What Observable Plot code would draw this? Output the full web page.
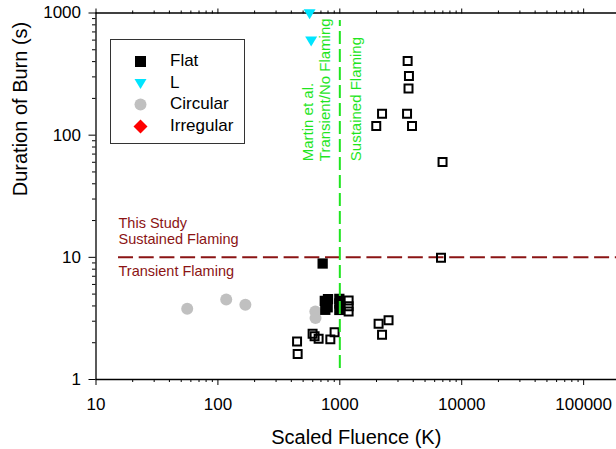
<!DOCTYPE html>
<html><head><meta charset="utf-8">
<script src="https://cdn.jsdelivr.net/npm/d3@7"></script>
<script src="https://cdn.jsdelivr.net/npm/@observablehq/plot@0.6"></script>
<style>
html,body{margin:0;padding:0;background:#fff;}
#wrap{position:relative;width:616px;height:449px;overflow:hidden;font-family:"Liberation Sans",Arial,sans-serif;}
#legend{position:absolute;left:110px;top:39px;width:135px;height:105px;border:1px solid #333;background:#fff;box-sizing:border-box;}
.item{position:absolute;left:0;height:22px;display:flex;align-items:center;font-size:17px;color:#000;}
.item svg{margin-left:23px;margin-right:0;}
</style></head><body><div id="wrap"></div>
<script>
// ---- data ----
const flatFluence = [723, 753, 800, 760, 795, 991, 991, 991];
const flatDuration = [8.9, 4.4, 4.55, 3.72, 3.9, 4.57, 4.19, 3.71];
const lFluence = [565, 582];
const lDuration = [985, 590];
const circFluence = [56, 117, 168, 630, 632];
const circDuration = [3.80, 4.52, 4.10, 3.61, 3.18];
const irrFluence = [];
const irrDuration = [];
const openFluence = [3600, 3690, 3660, 2220, 3560, 1990, 3910, 6960, 6760, 2080, 2510, 2220, 1181, 1181, 1181, 446, 451, 598, 621, 670, 836, 906];
const openDuration = [404, 305, 241, 150, 150, 119, 119, 60.4, 9.94, 2.86, 3.05, 2.32, 4.44, 3.97, 3.61, 2.05, 1.62, 2.37, 2.26, 2.16, 2.13, 2.44];
const legendLabels = ["Flat", "L", "Circular", "Irregular"];
const legendColors = ["#000000", "#00e5ff", "#c0c0c0", "#ff0000"];
const xMajorTicks = [10, 100, 1000, 10000, 100000];
const yMajorTicks = [1, 10, 100, 1000];
const martinThreshold = 1000;
const studyThreshold = 10;
const xLabel = "Scaled Fluence (K)";
const yLabel = "Duration of Burn (s)";

const zip = (xs, ys) => xs.map((x, i) => ({x, y: ys[i]}));
const flat = zip(flatFluence, flatDuration);
const lData = zip(lFluence, lDuration);
const circ = zip(circFluence, circDuration);
const irr = zip(irrFluence, irrDuration);
const open = zip(openFluence, openDuration);

const minor = (majors, max) => {
  const out = [];
  for (const m of majors) for (let k = 2; k <= 9; k++) if (m * k <= max) out.push(m * k);
  return out;
};
const xMinor = minor(xMajorTicks, 186000);
const yMinor = minor(yMajorTicks.slice(0, 3), 1000);

const downTriangle = {
  draw(ctx, size) {
    const r = Math.sqrt(size / Math.PI);
    ctx.moveTo(-r, -0.75 * r);
    ctx.lineTo(r, -0.75 * r);
    ctx.lineTo(0, 0.92 * r);
    ctx.closePath();
  }
};
const diamond = {
  draw(ctx, size) {
    const r = Math.sqrt(size / Math.PI);
    ctx.moveTo(0, -r); ctx.lineTo(r, 0); ctx.lineTo(0, r); ctx.lineTo(-r, 0); ctx.closePath();
  }
};

const green = "#1fe51f";
const red = "#8b1414";

const chart = Plot.plot({
  width: 616,
  height: 449,
  marginLeft: 95.5,
  marginRight: 0,
  marginTop: 12.5,
  marginBottom: 70,
  style: {fontFamily: "Liberation Sans, Arial, sans-serif", fontSize: "17px", color: "#000", background: "#fff", overflow: "visible"},
  x: {type: "log", domain: [10, 186000], axis: null},
  y: {type: "log", domain: [1, 1000], axis: null},
  marks: [
    Plot.ruleY([1000], {stroke: "#000", strokeWidth: 1.3}),
    Plot.ruleY([1], {stroke: "#000", strokeWidth: 1.3}),
    Plot.ruleX([10], {stroke: "#000", strokeWidth: 1.3}),
    Plot.axisX({ticks: xMajorTicks, tickSize: 6, tickPadding: 12, tickFormat: d => String(d), fontSize: 17, label: null}),
    Plot.axisX({ticks: xMinor, tickSize: 3, tickFormat: () => "", label: null}),
    Plot.axisX({anchor: "top", ticks: xMajorTicks, tickSize: 5, tickFormat: () => "", label: null}),
    Plot.axisX({anchor: "top", ticks: xMinor, tickSize: 3, tickFormat: () => "", label: null}),
    Plot.axisY({ticks: yMajorTicks, tickSize: 7, tickPadding: 8, tickFormat: d => String(d), fontSize: 17, label: null}),
    Plot.axisY({ticks: yMinor, tickSize: 3.5, tickFormat: () => "", label: null}),
    Plot.text([xLabel], {frameAnchor: "bottom", dy: 58, fontSize: 20, lineAnchor: "middle", fill: "#000"}),
    Plot.text([yLabel], {frameAnchor: "left", dx: -75.5, rotate: -90, fontSize: 20, lineAnchor: "middle", fill: "#000"}),
    // threshold lines
    Plot.ruleY([studyThreshold], {x1: 15.3, x2: 186000, stroke: red, strokeWidth: 2, strokeDasharray: "15,5.7"}),
    Plot.text(["This Study"], {x: 15.3, y: studyThreshold, dy: -33.5, textAnchor: "start", lineAnchor: "middle", fontSize: 14.5, fill: red}),
    Plot.text(["Sustained Flaming"], {x: 15.3, y: studyThreshold, dy: -17.5, textAnchor: "start", lineAnchor: "middle", fontSize: 14.5, fill: red}),
    Plot.text(["Transient Flaming"], {x: 15.3, y: studyThreshold, dy: 14, textAnchor: "start", lineAnchor: "middle", fontSize: 14.5, fill: red}),
    // data
    Plot.dot(circ, {x: "x", y: "y", r: 6, fill: "#c0c0c0", stroke: "none"}),
    Plot.dot(flat, {x: "x", y: "y", r: 5.8, symbol: "square", fill: "#000", stroke: "none"}),
    Plot.dot(open, {x: "x", y: "y", r: 4.5, symbol: "square", fill: "none", stroke: "#000", strokeWidth: 2}),
    Plot.dot(lData, {x: "x", y: "y", r: 6, symbol: downTriangle, fill: "#00e5ff", stroke: "none"}),
    Plot.dot(irr, {x: "x", y: "y", r: 7, symbol: diamond, fill: "#ff0000", stroke: "none"}),
    Plot.ruleX([martinThreshold], {y1: 1.23, y2: 870, stroke: green, strokeWidth: 2, strokeDasharray: "13,5"}),
    Plot.text(["Martin et al."], {x: martinThreshold, y: 61.2, dx: -32, rotate: -90, textAnchor: "start", lineAnchor: "middle", fontSize: 15, fill: green}),
    Plot.text(["Transient/No Flaming"], {x: martinThreshold, y: 61.2, dx: -14.5, rotate: -90, textAnchor: "start", lineAnchor: "middle", fontSize: 15, fill: green}),
    Plot.text(["Sustained Flaming"], {x: martinThreshold, y: 61.2, dx: 16, rotate: -90, textAnchor: "start", lineAnchor: "middle", fontSize: 15, fill: green})
  ]
});

const wrap = document.getElementById("wrap");
wrap.appendChild(chart);

// legend
const legend = document.createElement("div");
legend.id = "legend";
const legendSymbols = [
  c => `<rect x="1" y="1" width="11" height="11" fill="${c}"/>`,
  c => `<path d="M0.5,2 L12.5,2 L6.5,12 Z" fill="${c}"/>`,
  c => `<circle cx="6.5" cy="6.5" r="6" fill="${c}"/>`,
  c => `<path d="M6.5,-0.5 L13.5,6.5 L6.5,13.5 L-0.5,6.5 Z" fill="${c}"/>`
];
const rowTops = [10, 32, 53, 75];
legendLabels.forEach((lab, i) => {
  const it = document.createElement("div");
  it.className = "item";
  it.style.top = rowTops[i] + "px";
  it.innerHTML = `<svg width="13" height="13" viewBox="0 0 13 13" style="overflow:visible">${legendSymbols[i](legendColors[i])}</svg><span style="margin-left:23px">${lab}</span>`;
  legend.appendChild(it);
});
wrap.appendChild(legend);
</script></body></html>
